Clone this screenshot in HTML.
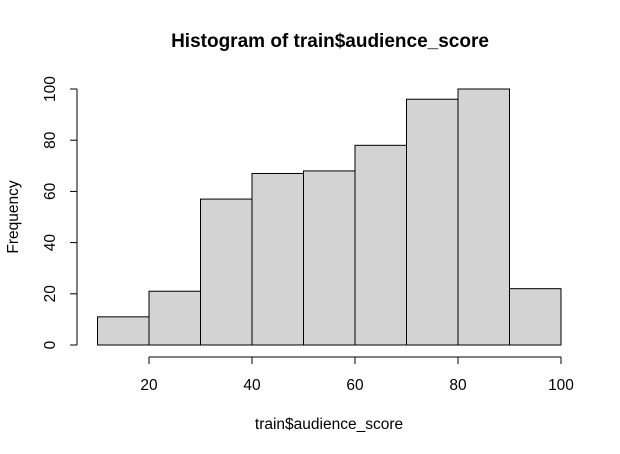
<!DOCTYPE html>
<html><head><meta charset="utf-8"><style>
body{margin:0;background:#fff}
svg{display:block;font-family:"Liberation Sans",Arial,sans-serif}
</style></head><body>
<svg id="c" width="620" height="454">
<text x="330" y="47" text-anchor="middle" font-weight="bold" font-size="19">Histogram of train$audience_score</text>
<text x="329" y="429" text-anchor="middle" font-size="15.5">train$audience_score</text>
<text transform="translate(18,217) rotate(-90)" text-anchor="middle" font-size="15.5">Frequency</text>
<g id="bars"></g><g id="xa"></g><g id="ya"></g>
</svg>
<script>
const binEdges=[10,20,30,40,50,60,70,80,90,100];
const counts=[11,21,57,67,68,78,96,100,22];
const xTicks=[20,40,60,80,100];
const yTicks=[0,20,40,60,80,100];
const ns="http://www.w3.org/2000/svg";
const X=v=>149+(v-20)*(561-149)/80;
const Y=v=>345-v*2.56;
function mk(t,a,p){const e=document.createElementNS(ns,t);for(const k in a)e.setAttribute(k,a[k]);p.appendChild(e);return e;}
const bars=document.getElementById('bars');
counts.forEach((c,i)=>{
 const r=mk('rect',{x:X(binEdges[i]),y:Y(c),width:X(binEdges[i+1])-X(binEdges[i]),height:Y(0)-Y(c),fill:'#d3d3d3',stroke:'#000','stroke-width':1},bars);
 
 
});
const xa=document.getElementById('xa');
const xl=mk('line',{x1:X(xTicks[0]),x2:X(xTicks[xTicks.length-1]),y1:357,y2:357,stroke:'#000'},xa);


xTicks.forEach(t=>{
 mk('line',{x1:X(t),x2:X(t),y1:357,y2:364,stroke:'#000'},xa);
 const tx=mk('text',{x:X(t),y:390,'text-anchor':'middle','font-size':15.5},xa);
 tx.textContent=t;
 
 
});
const ya=document.getElementById('ya');
const yl=mk('line',{x1:77,x2:77,y1:Y(yTicks[0]),y2:Y(yTicks[yTicks.length-1]),stroke:'#000'},ya);


yTicks.forEach(t=>{
 mk('line',{x1:70,x2:77,y1:Y(t),y2:Y(t),stroke:'#000'},ya);
 const tx=mk('text',{transform:`translate(55,${Y(t)}) rotate(-90)`,'text-anchor':'middle','font-size':15.5},ya);
 tx.textContent=t;
 
 
});
</script>
</body></html>
